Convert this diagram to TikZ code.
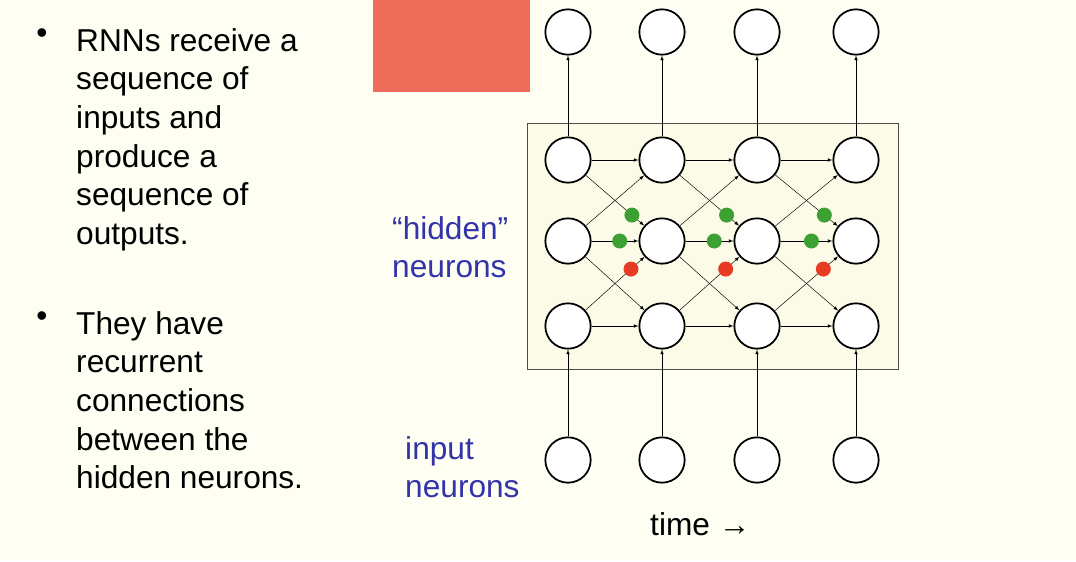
\documentclass[tikz,border=0pt]{standalone}
\usepackage{fontspec}
\setmainfont{Liberation Sans}
\usetikzlibrary{calc}
\definecolor{bgcream}{RGB}{254,254,242}
\definecolor{boxcream}{RGB}{252,251,232}
\definecolor{salmon}{RGB}{238,108,90}
\definecolor{labelblue}{RGB}{51,51,170}
\definecolor{dotgreen}{RGB}{60,160,50}
\definecolor{dotred}{RGB}{230,60,35}

\begin{document}
\begin{tikzpicture}[x=0.03cm, y=-0.03cm, >=latex,
  % neurons
  neuron/.style={circle, draw=black, line width=1.5pt, fill=white, minimum size=1.36cm, inner sep=0pt},
  % bullet text
  bullet/.style={anchor=north west, align=left, font=\fontsize{27}{33}\selectfont, inner sep=0pt},
  blabel/.style={anchor=west, align=left, text=labelblue, font=\fontsize{27}{32}\selectfont, inner sep=0pt},
  link/.style={->, thin},
  dot/.style={circle, inner sep=0pt, minimum size=0.45cm}]
  \fill[bgcream] (0,0) rectangle (1076,561);
  \useasboundingbox (0,0) rectangle (1076,561);
  \fill[salmon] (373,0) rectangle (530,92);
  \draw[fill=boxcream, draw=black!70] (527,123) rectangle (898,369);

  \foreach \i/\x in {1/568,2/662,3/757,4/856} {
    \node[neuron] (o\i) at (\x,32) {};
    \node[neuron] (t\i) at (\x,160) {};
    \node[neuron] (m\i) at (\x,241) {};
    \node[neuron] (b\i) at (\x,326) {};
    \node[neuron] (in\i) at (\x,460) {};
    \draw[link] (t\i) -- (o\i);
    \draw[link] (in\i) -- (b\i);
  }
  \foreach \i/\j in {1/2,2/3,3/4} {
    \draw[link] (t\i) -- (t\j);
    \draw[link] (m\i) -- (m\j);
    \draw[link] (b\i) -- (b\j);
    \draw[link] (t\i) -- (m\j);
    \draw[link] (m\i) -- (t\j);
    \draw[link] (m\i) -- (b\j);
    \draw[link] (b\i) -- (m\j);
    \node[dot, fill=dotgreen] at ($(t\i)!0.68!(m\j)$) {};
    \node[dot, fill=dotgreen] at ($(m\i)!0.55!(m\j)$) {};
    \node[dot, fill=dotred] at ($(b\i)!0.67!(m\j)$) {};
  }

  \node[bullet] (txta) at (76,28) {RNNs receive a\\sequence of\\inputs and\\produce a\\sequence of\\outputs.};
  \node[bullet] (txtb) at (76,311) {They have\\recurrent\\connections\\between the\\hidden neurons.};
  \node[bullet, anchor=north] at (42,28) {•};
  \node[bullet, anchor=north] at (42,311) {•};

  \node[blabel] (hid) at (392,247) {“hidden”\\neurons};
  \node[blabel] (inp) at (405,467) {input\\neurons};
  \node[anchor=west, inner sep=0pt, font=\fontsize{27}{28}\selectfont] (time) at (650,524) {time  →};
\end{tikzpicture}
\end{document}
